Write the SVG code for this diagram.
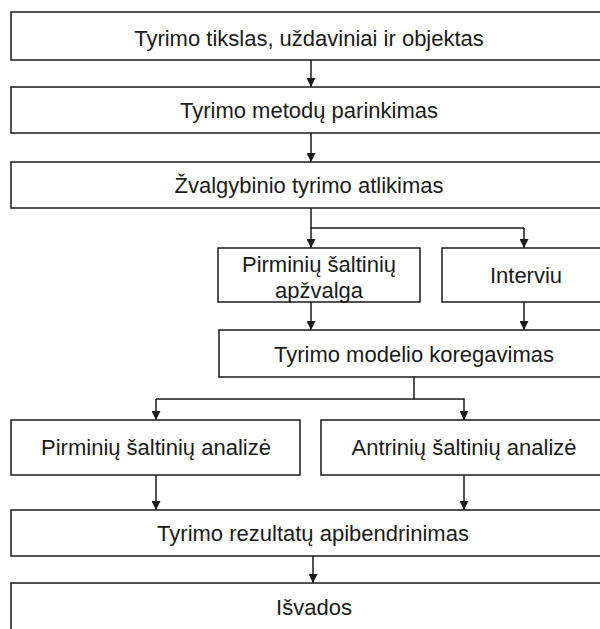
<svg xmlns="http://www.w3.org/2000/svg" width="600" height="629" viewBox="0 0 600 629">
  <style>
    .box { fill: #ffffff; stroke: #1a1a1a; stroke-width: 1.5; }
    .lbl { font-family: "Liberation Sans", Arial, sans-serif; font-size: 22px; fill: #1a1a1a; text-anchor: middle; }
    .wire { fill: none; stroke: #1a1a1a; stroke-width: 1.5; }
  </style>
  <defs>
    <marker id="arrow" viewBox="0 0 10 10" refX="10" refY="5" markerWidth="9" markerHeight="9" markerUnits="userSpaceOnUse" orient="auto">
      <path d="M0,0 L10,5 L0,10 Z" fill="#1a1a1a"/>
    </marker>
  </defs>
  <rect width="600" height="629" fill="#ffffff"/>

  <g id="n-tikslas">
    <rect class="box" x="11" y="12" width="600" height="48"/>
    <text class="lbl" x="309" y="46">Tyrimo tikslas, uždaviniai ir objektas</text>
  </g>
  <g id="n-metodai">
    <rect class="box" x="11" y="87" width="600" height="46"/>
    <text class="lbl" x="309" y="118">Tyrimo metodų parinkimas</text>
  </g>
  <g id="n-zvalgybinis">
    <rect class="box" x="11" y="162" width="600" height="46"/>
    <text class="lbl" x="309" y="193">Žvalgybinio tyrimo atlikimas</text>
  </g>
  <g id="n-apzvalga">
    <rect class="box" x="218" y="248" width="202" height="54"/>
    <text class="lbl" x="319" y="272">Pirminių šaltinių</text>
    <text class="lbl" x="319" y="298">apžvalga</text>
  </g>
  <g id="n-interviu">
    <rect class="box" x="442" y="248" width="170" height="54"/>
    <text class="lbl" x="526" y="283">Interviu</text>
  </g>
  <g id="n-modelis">
    <rect class="box" x="219" y="330" width="392" height="47"/>
    <text class="lbl" x="414" y="362">Tyrimo modelio koregavimas</text>
  </g>
  <g id="n-pirmine-analize">
    <rect class="box" x="11" y="420" width="289" height="55"/>
    <text class="lbl" x="156" y="455">Pirminių šaltinių analizė</text>
  </g>
  <g id="n-antrine-analize">
    <rect class="box" x="321" y="420" width="290" height="55"/>
    <text class="lbl" x="464" y="455">Antrinių šaltinių analizė</text>
  </g>
  <g id="n-rezultatai">
    <rect class="box" x="11" y="510" width="600" height="46"/>
    <text class="lbl" x="313" y="541">Tyrimo rezultatų apibendrinimas</text>
  </g>
  <g id="n-isvados">
    <rect class="box" x="11" y="583" width="600" height="60"/>
    <text class="lbl" x="314" y="615">Išvados</text>
  </g>

  <g id="connectors">
    <line class="wire" x1="311" y1="60" x2="311" y2="87" marker-end="url(#arrow)"/>
    <line class="wire" x1="311" y1="133" x2="311" y2="162" marker-end="url(#arrow)"/>
    <polyline class="wire" points="311,208 311,228 524,228"/>
    <line class="wire" x1="311" y1="228" x2="311" y2="248" marker-end="url(#arrow)"/>
    <line class="wire" x1="524" y1="228" x2="524" y2="248" marker-end="url(#arrow)"/>
    <line class="wire" x1="311" y1="302" x2="311" y2="330" marker-end="url(#arrow)"/>
    <line class="wire" x1="524" y1="302" x2="524" y2="330" marker-end="url(#arrow)"/>
    <polyline class="wire" points="414,377 414,399 156,399"/>
    <line class="wire" x1="156" y1="399" x2="156" y2="420" marker-end="url(#arrow)"/>
    <polyline class="wire" points="414,399 464,399 464,420" marker-end="url(#arrow)"/>
    <line class="wire" x1="156" y1="475" x2="156" y2="510" marker-end="url(#arrow)"/>
    <line class="wire" x1="464" y1="475" x2="464" y2="510" marker-end="url(#arrow)"/>
    <line class="wire" x1="313" y1="556" x2="313" y2="583" marker-end="url(#arrow)"/>
  </g>
</svg>
